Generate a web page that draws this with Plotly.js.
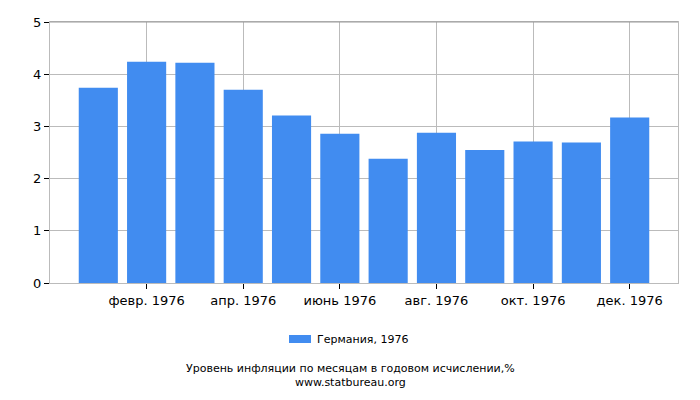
<!DOCTYPE html>
<html>
<head>
<meta charset="utf-8">
<script src="https://cdn.plot.ly/plotly-3.0.1.min.js"></script>
<style>html,body{margin:0;padding:0;background:#fff;}#chart{width:700px;height:400px;}</style>
</head>
<body>
<div id="chart"></div>
<script>
const months = ["янв. 1976","февр. 1976","март 1976","апр. 1976","май 1976","июнь 1976","июль 1976","авг. 1976","сент. 1976","окт. 1976","нояб. 1976","дек. 1976"];
const values = [3.74, 4.24, 4.22, 3.70, 3.21, 2.86, 2.38, 2.88, 2.55, 2.71, 2.69, 3.17];
const tickLabels = ["февр. 1976","апр. 1976","июнь 1976","авг. 1976","окт. 1976","дек. 1976"];
const seriesName = "Германия, 1976";
const chartTitle = "Уровень инфляции по месяцам в годовом исчислении,%";
const source = "www.statbureau.org";

const font = "DejaVu Sans, Verdana, sans-serif";
const barColor = "#418cf0";

Plotly.newPlot("chart", [{
  type: "bar",
  x: months,
  y: values,
  name: seriesName,
  marker: {color: barColor},
  showlegend: false
}], {
  width: 700, height: 400,
  margin: {l: 50, r: 22, t: 22, b: 117},
  paper_bgcolor: "#fff", plot_bgcolor: "#fff",
  bargap: 0.19,
  font: {family: font, size: 13, color: "#000"},
  xaxis: {
    type: "category",
    range: [-1, 12],
    tickmode: "array",
    tickvals: tickLabels,
    ticktext: tickLabels,
    ticks: "outside", ticklen: 5, tickcolor: "#000",
    showgrid: true, gridcolor: "#bbb",
    showline: true, linecolor: "#bbb", mirror: true,
    tickfont: {family: font, size: 13, color: "#000"},
    fixedrange: true
  },
  yaxis: {
    range: [0, 5],
    dtick: 1,
    ticks: "outside", ticklen: 5, tickcolor: "#000",
    showgrid: true, gridcolor: "#bbb",
    showline: true, linecolor: "#bbb", mirror: true,
    zeroline: false,
    tickfont: {family: font, size: 13, color: "#000"},
    fixedrange: true
  },
  shapes: [
    {type: "line", xref: "paper", yref: "paper", x0: 0, x1: 1, y0: 1, y1: 1, line: {color: "#999", width: 1}},
    {type: "rect", xref: "paper", yref: "paper", x0: 0.3806, x1: 0.4156, y0: -0.2299, y1: -0.1992, fillcolor: barColor, line: {width: 0}}
  ],
  annotations: [
    {text: seriesName, xref: "paper", yref: "paper", x: 0.422, y: -0.2165, xanchor: "left", yanchor: "middle", showarrow: false, font: {family: font, size: 11, color: "#000"}},
    {text: chartTitle + "<br>" + source, xref: "paper", yref: "paper", x: 0.478, y: -0.356, xanchor: "center", yanchor: "middle", align: "center", showarrow: false, font: {family: font, size: 11, color: "#000"}}
  ]
}, {displayModeBar: false, staticPlot: true});
</script>
</body>
</html>
